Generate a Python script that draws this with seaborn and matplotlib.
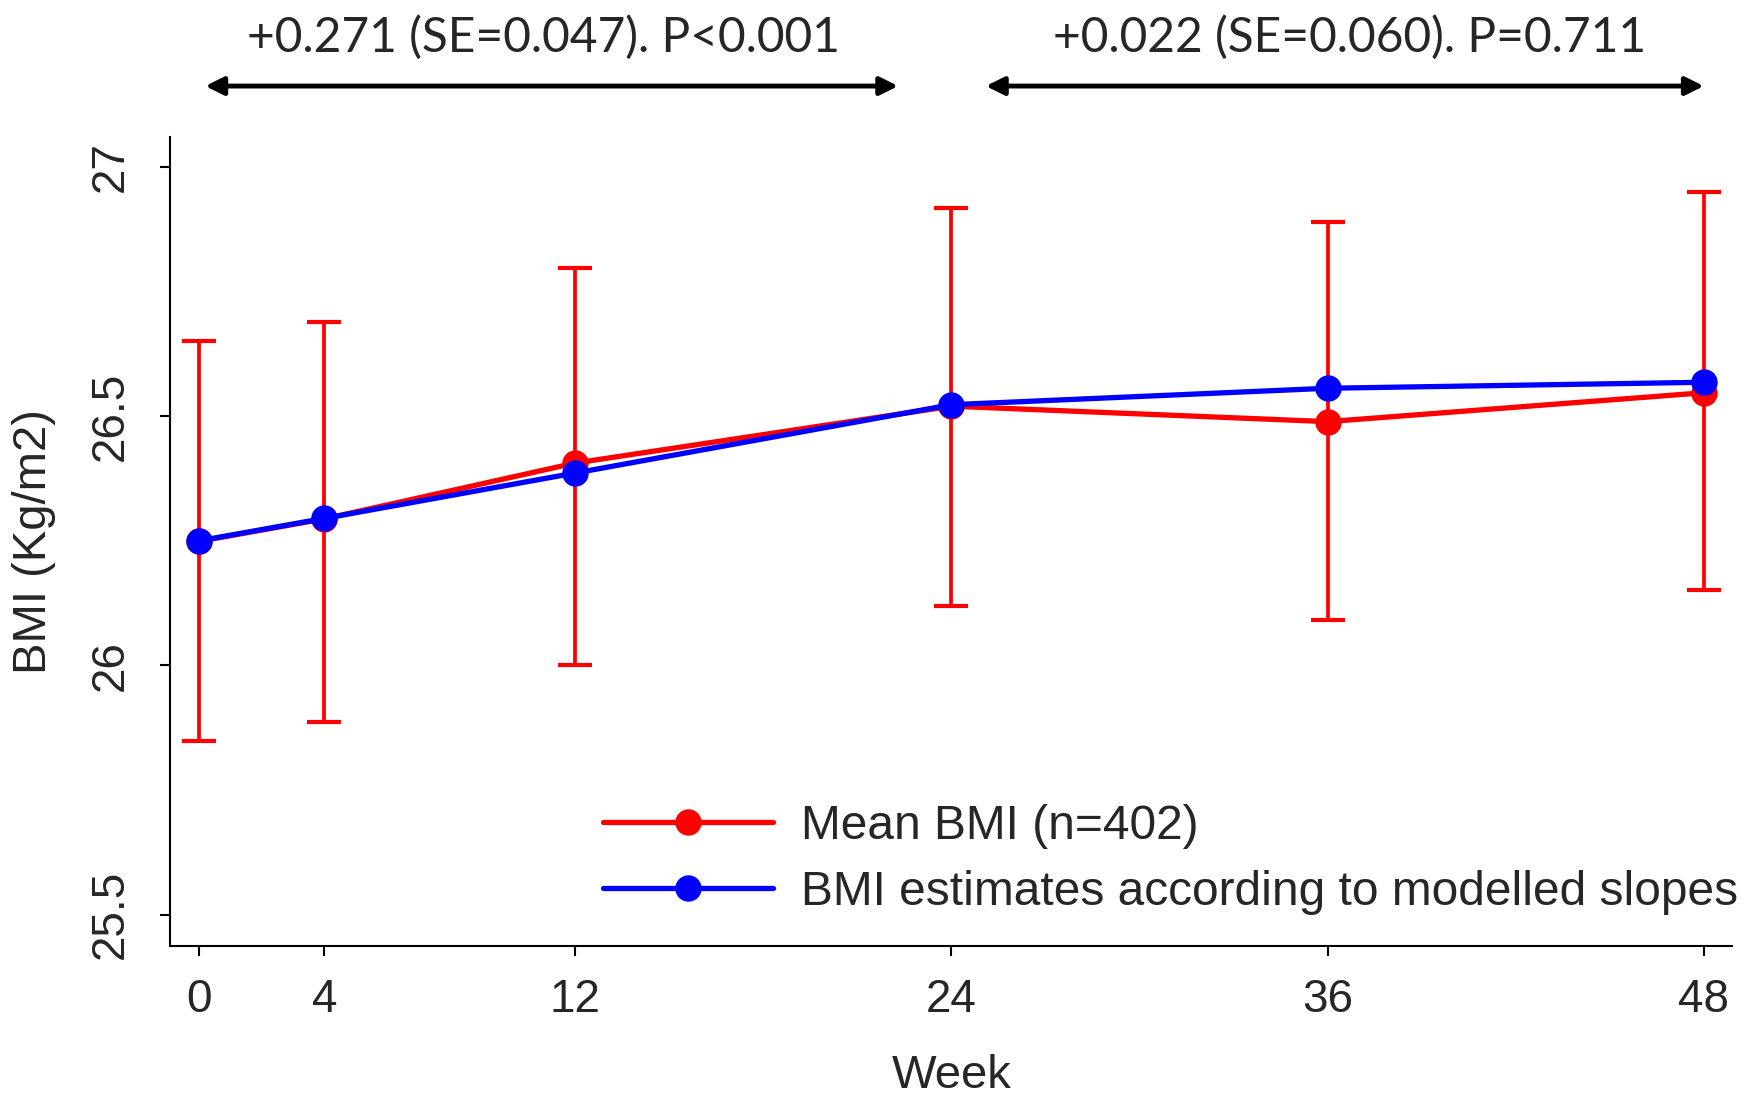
import pandas as pd
import matplotlib.pyplot as plt
import seaborn as sns

# values
weeks = [0, 4, 12, 24, 36, 48]
mean_bmi = [26.249, 26.294, 26.406, 26.520, 26.489, 26.547]
ci_low = [25.849, 25.887, 26.000, 26.120, 26.091, 26.151]
ci_high = [26.650, 26.688, 26.798, 26.918, 26.889, 26.950]
model_bmi = [26.250, 26.295, 26.386, 26.523, 26.556, 26.568]

label_mean = "Mean BMI (n=402)"
label_model = "BMI estimates according to modelled slopes"
ann_texts = ["+0.271 (SE=0.047). P<0.001", "+0.022 (SE=0.060). P=0.711"]
ann_spans = [(0.2, 22.3), (25.1, 48.0)]
ann_centers = [11.0, 36.7]

sns.set_style("ticks")
plt.rcParams['font.family'] = ['Liberation Sans', 'DejaVu Sans']

df = pd.DataFrame({"week": weeks, "mean": mean_bmi, "model": model_bmi})

fig = plt.figure(figsize=(17.5, 10.97), dpi=100)
ax = fig.add_axes([0.0971, 0.1376, 0.8926, 0.7375])

# error bars behind the lines
ax.errorbar(weeks, mean_bmi,
            yerr=[[m - l for m, l in zip(mean_bmi, ci_low)],
                  [h - m for m, h in zip(mean_bmi, ci_high)]],
            fmt='none', ecolor='#ff0000', elinewidth=2.7, capsize=12,
            capthick=3.0, zorder=1)

sns.lineplot(data=df, x="week", y="mean", ax=ax, color='#ff0000', lw=3.8,
             marker='o', markersize=19, markeredgewidth=0, label=label_mean,
             zorder=2)
sns.lineplot(data=df, x="week", y="model", ax=ax, color='#0000ff', lw=3.8,
             marker='o', markersize=19, markeredgewidth=0, label=label_model,
             zorder=3)

ax.set_xlim(-0.93, 48.9)
ax.set_ylim(25.437, 27.06)
ax.set_xticks(weeks)
ax.set_yticks([25.5, 26, 26.5, 27])
ax.set_yticklabels(["25.5", "26", "26.5", "27"])
ax.tick_params(axis='both', labelsize=33, length=7, width=1.5, color='black')
ax.tick_params(axis='y', labelrotation=90, pad=20)
ax.tick_params(axis='x', pad=16)
for lab in ax.get_yticklabels():
    lab.set_va('center')

ax.set_xlabel("Week", fontsize=34)
ax.set_ylabel("BMI (Kg/m2)", fontsize=34)
ax.xaxis.set_label_coords(0.5005, -0.134)
ax.yaxis.set_label_coords(-0.073, 0.5)

for s in ['top', 'right']:
    ax.spines[s].set_visible(False)
for s in ['left', 'bottom']:
    ax.spines[s].set_linewidth(1.5)
    ax.spines[s].set_color('black')

leg = ax.legend(loc='center left', bbox_to_anchor=(0.277, 0.107), frameon=False,
                fontsize=34.5, handlelength=3.55, handletextpad=0.6,
                labelspacing=0.45, borderpad=0, borderaxespad=0)

# slope annotations above the plot
trans = ax.get_xaxis_transform()
for (x0, x1), xc, txt in zip(ann_spans, ann_centers, ann_texts):
    ax.annotate("", xy=(x0, 1.063), xytext=(x1, 1.063), xycoords=trans,
                textcoords=trans,
                arrowprops=dict(arrowstyle='<|-|>', color='black', lw=3.5,
                                mutation_scale=27, shrinkA=0, shrinkB=0),
                annotation_clip=False)
    ax.text(xc, 1.1236, txt, transform=trans, ha='center',
            va='center', fontsize=34.5, family=['Lato', 'DejaVu Sans'])

fig.savefig("out.png", dpi=100)
